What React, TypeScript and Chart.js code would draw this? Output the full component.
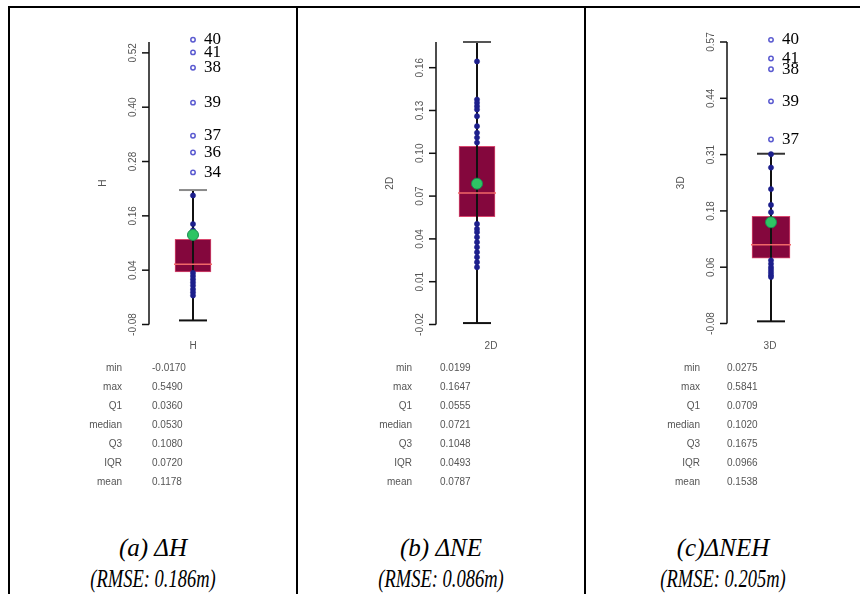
import React, { useEffect, useRef } from 'react';
import { Chart, registerables } from 'chart.js';

Chart.register(...registerables);

// ---------- shared ----------
const statNames = ['min', 'max', 'Q1', 'median', 'Q3', 'IQR', 'mean'];

// ---------- panel (a) ΔH ----------
const hCategory = 'H';
const hStats = [-0.0170, 0.5490, 0.0360, 0.0530, 0.1080, 0.0720, 0.1178];
const hWhiskers = [-0.071, 0.217];
const hPoints = [0.205, 0.142, 0.128, 0.034, 0.027, 0.020, 0.013, 0.006, -0.002, -0.009, -0.016];
const hOutliers = [0.549, 0.521, 0.487, 0.410, 0.337, 0.300, 0.256];
const hOutlierIds = ['40', '41', '38', '39', '37', '36', '34'];
const hTicks = [-0.08, 0.04, 0.16, 0.28, 0.40, 0.52];
const hTickLabels = ['-0.08', '0.04', '0.16', '0.28', '0.40', '0.52'];
const hRange = [-0.08, 0.544];
const hCaption = ['(a) ΔH', '(RMSE: 0.186m)'];

// ---------- panel (b) ΔNE ----------
const neCategory = '2D';
const neStats = [0.0199, 0.1647, 0.0555, 0.0721, 0.1048, 0.0493, 0.0787];
const neWhiskers = [-0.019, 0.178];
const nePoints = [0.1644, 0.1377, 0.1354, 0.133, 0.1307, 0.126, 0.119, 0.1144, 0.111, 0.1075,
  0.0505, 0.047, 0.0447, 0.0412, 0.0377, 0.0342, 0.0307, 0.0272, 0.0237, 0.0202];
const neOutliers: number[] = [];
const neOutlierIds: string[] = [];
const neTicks = [-0.02, 0.01, 0.04, 0.07, 0.10, 0.13, 0.16];
const neTickLabels = ['-0.02', '0.01', '0.04', '0.07', '0.10', '0.13', '0.16'];
const neRange = [-0.02, 0.178];
const neCaption = ['(b) ΔNE', '(RMSE: 0.086m)'];

// ---------- panel (c) ΔNEH ----------
const nehCategory = '3D';
const nehStats = [0.0275, 0.5841, 0.0709, 0.1020, 0.1675, 0.0966, 0.1538];
const nehWhiskers = [-0.075, 0.312];
const nehPoints = [0.311, 0.280, 0.2305, 0.1938, 0.177, 0.066, 0.058, 0.050, 0.044, 0.038, 0.032, 0.0275];
const nehOutliers = [0.575, 0.532, 0.507, 0.433, 0.345];
const nehOutlierIds = ['40', '41', '38', '39', '37'];
const nehTicks = [-0.08, 0.05, 0.18, 0.31, 0.44, 0.57];
const nehTickLabels = ['-0.08', '0.06', '0.18', '0.31', '0.44', '0.57'];
const nehRange = [-0.08, 0.57];
const nehCaption = ['(c)ΔNEH', '(RMSE: 0.205m)'];

type PanelData = {
  category: string;
  stats: number[];
  whiskers: number[];
  points: number[];
  outliers: number[];
  outlierIds: string[];
  ticks: number[];
  tickLabels: string[];
  range: number[];
  caption: string[];
};

type PanelLayout = {
  colLeft: number;
  colWidth: number;
  padLeft: number;
  padRight: number;
  boxWidth: number;
  topCapColor: string;
  catX: number;
  labelRight: number;
  valueLeft: number;
};

const panels: { data: PanelData; layout: PanelLayout }[] = [
  {
    data: { category: hCategory, stats: hStats, whiskers: hWhiskers, points: hPoints, outliers: hOutliers, outlierIds: hOutlierIds, ticks: hTicks, tickLabels: hTickLabels, range: hRange, caption: hCaption },
    layout: { colLeft: 10, colWidth: 286, padLeft: 139, padRight: 59, boxWidth: 36, topCapColor: '#8a8a8a', catX: 193, labelRight: 122, valueLeft: 152 },
  },
  {
    data: { category: neCategory, stats: neStats, whiskers: neWhiskers, points: nePoints, outliers: neOutliers, outlierIds: neOutlierIds, ticks: neTicks, tickLabels: neTickLabels, range: neRange, caption: neCaption },
    layout: { colLeft: 298, colWidth: 286, padLeft: 138, padRight: 66, boxWidth: 36, topCapColor: '#555', catX: 491, labelRight: 412, valueLeft: 440 },
  },
  {
    data: { category: nehCategory, stats: nehStats, whiskers: nehWhiskers, points: nehPoints, outliers: nehOutliers, outlierIds: nehOutlierIds, ticks: nehTicks, tickLabels: nehTickLabels, range: nehRange, caption: nehCaption },
    layout: { colLeft: 586, colWidth: 274, padLeft: 141, padRight: 45, boxWidth: 38, topCapColor: '#333', catX: 770, labelRight: 700, valueLeft: 727 },
  },
];

const CANVAS_H = 345;
const PAD_TOP = 42;
const PAD_BOTTOM = 20;

function makeAxisPlugin(d: PanelData) {
  return {
    id: 'rAxis',
    afterDraw(chart: any) {
      const { ctx, chartArea } = chart;
      const ys = chart.scales.y;
      const ax = chartArea.left;
      ctx.save();
      ctx.strokeStyle = '#111';
      ctx.lineWidth = 1.5;
      ctx.beginPath();
      ctx.moveTo(ax, chartArea.top);
      ctx.lineTo(ax, chartArea.bottom);
      ctx.stroke();
      ctx.font = '10px "Liberation Sans", Arial, sans-serif';
      ctx.fillStyle = '#555';
      d.ticks.forEach((v, i) => {
        const py = ys.getPixelForValue(v);
        ctx.beginPath();
        ctx.moveTo(ax - 7, py);
        ctx.lineTo(ax, py);
        ctx.stroke();
        ctx.save();
        ctx.translate(ax - 16, py);
        ctx.rotate(-Math.PI / 2);
        ctx.textAlign = 'center';
        ctx.textBaseline = 'middle';
        ctx.fillText(d.tickLabels[i], 0, 0);
        ctx.restore();
      });
      // axis title
      ctx.save();
      ctx.translate(ax - 46, (chartArea.top + chartArea.bottom) / 2);
      ctx.rotate(-Math.PI / 2);
      ctx.textAlign = 'center';
      ctx.textBaseline = 'middle';
      ctx.fillText(d.category, 0, 0);
      ctx.restore();
      // outlier ids
      const meta = chart.getDatasetMeta(7);
      ctx.fillStyle = '#000';
      ctx.font = '17px "Liberation Serif", "Times New Roman", serif';
      ctx.textAlign = 'left';
      ctx.textBaseline = 'middle';
      meta.data.forEach((pt: any, i: number) => {
        ctx.fillText(d.outlierIds[i], pt.x + 11, pt.y);
      });
      ctx.restore();
    },
  };
}

function BoxPanel({ data, layout }: { data: PanelData; layout: PanelLayout }) {
  const ref = useRef<HTMLCanvasElement>(null);
  useEffect(() => {
    if (!ref.current) return;
    const c = data.category;
    const [, , q1, med, q3, , mean] = data.stats;
    const pt = (v: number) => ({ x: c, y: v });
    const chart = new Chart(ref.current, {
      type: 'bar',
      data: {
        labels: [c],
        datasets: [
          {
            type: 'bar',
            data: [[q1, q3]],
            backgroundColor: '#84073d',
            borderColor: '#d9476e',
            borderWidth: 1,
            borderSkipped: false,
            barThickness: layout.boxWidth,
            order: 10,
          } as any,
          {
            type: 'line',
            data: data.whiskers.map(pt),
            borderColor: '#111',
            borderWidth: 2,
            pointRadius: 0,
            clip: false,
            order: 9,
          } as any,
          {
            type: 'line',
            data: [pt(data.whiskers[0])],
            showLine: false,
            pointStyle: 'line',
            pointRadius: 14,
            pointBorderColor: '#111',
            pointBorderWidth: 2,
            clip: false,
            order: 8,
          } as any,
          {
            type: 'line',
            data: [pt(data.whiskers[1])],
            showLine: false,
            pointStyle: 'line',
            pointRadius: 14,
            pointBorderColor: layout.topCapColor,
            pointBorderWidth: 2,
            clip: false,
            order: 8,
          } as any,
          {
            type: 'line',
            data: data.points.map(pt),
            showLine: false,
            pointStyle: 'circle',
            pointRadius: 2.6,
            pointBackgroundColor: '#1c1f8c',
            pointBorderColor: '#1c1f8c',
            pointBorderWidth: 0.5,
            clip: false,
            order: 7,
          } as any,
          {
            type: 'line',
            data: [pt(med)],
            showLine: false,
            pointStyle: 'line',
            pointRadius: layout.boxWidth / 2 + 1,
            pointBorderColor: '#f06868',
            pointBorderWidth: 1.5,
            clip: false,
            order: 6,
          } as any,
          {
            type: 'line',
            data: [pt(mean)],
            showLine: false,
            pointStyle: 'circle',
            pointRadius: 5.5,
            pointBackgroundColor: '#2fc464',
            pointBorderColor: '#1d8a52',
            pointBorderWidth: 1,
            clip: false,
            order: 5,
          } as any,
          {
            type: 'line',
            data: data.outliers.map(pt),
            showLine: false,
            pointStyle: 'circle',
            pointRadius: 2.2,
            pointBackgroundColor: 'rgba(255,255,255,0)',
            pointBorderColor: '#5a5ad0',
            pointBorderWidth: 1.5,
            clip: false,
            order: 4,
          } as any,
        ],
      },
      options: {
        animation: false,
        responsive: false,
        maintainAspectRatio: false,
        events: [],
        layout: { padding: { left: layout.padLeft, right: layout.padRight, top: PAD_TOP, bottom: PAD_BOTTOM } },
        scales: {
          x: { display: false, offset: true },
          y: { display: false, min: data.range[0], max: data.range[1] },
        },
        plugins: { legend: { display: false }, tooltip: { enabled: false } },
      },
      plugins: [makeAxisPlugin(data)],
    });
    return () => chart.destroy();
  }, [data, layout]);

  const statFont = '10px "Liberation Sans", Arial, sans-serif';
  const capBase: React.CSSProperties = {
    position: 'absolute', left: layout.colLeft, width: layout.colWidth, textAlign: 'center',
    fontFamily: '"Liberation Serif", "Times New Roman", serif', fontStyle: 'italic', color: '#000', whiteSpace: 'nowrap',
  };
  return (
    <>
      <canvas
        ref={ref}
        width={layout.colWidth}
        height={CANVAS_H}
        style={{ position: 'absolute', left: layout.colLeft, top: 0, width: layout.colWidth, height: CANVAS_H }}
      />
      <div style={{ position: 'absolute', left: layout.catX - 20, width: 40, top: 340, textAlign: 'center', font: statFont, color: '#555', lineHeight: '12px' }}>
        {data.category}
      </div>
      {statNames.map((n, i) => (
        <React.Fragment key={n}>
          <div style={{ position: 'absolute', left: layout.labelRight - 60, width: 60, top: 362 + 19 * i, textAlign: 'right', font: statFont, color: '#555', lineHeight: '12px' }}>{n}</div>
          <div style={{ position: 'absolute', left: layout.valueLeft, top: 362 + 19 * i, font: statFont, color: '#555', lineHeight: '12px' }}>{data.stats[i].toFixed(4)}</div>
        </React.Fragment>
      ))}
      <div style={{ ...capBase, top: 533, fontSize: 25, lineHeight: '30px' }}>{data.caption[0]}</div>
      <div style={{ ...capBase, top: 564, fontSize: 25, lineHeight: '30px', transform: 'scaleX(0.74)' }}>{data.caption[1]}</div>
    </>
  );
}

export default function App() {
  const line = (s: React.CSSProperties) => <div style={{ position: 'absolute', background: '#000', ...s }} />;
  return (
    <div style={{ position: 'absolute', left: 0, top: 0, width: 860, height: 594, background: '#fff', overflow: 'hidden' }}>
      {line({ left: 8, top: 6, width: 852, height: 2 })}
      {line({ left: 8, top: 6, width: 2, height: 588 })}
      {line({ left: 296, top: 6, width: 2, height: 588 })}
      {line({ left: 584, top: 6, width: 2, height: 588 })}
      {panels.map((p) => (
        <BoxPanel key={p.data.category} data={p.data} layout={p.layout} />
      ))}
    </div>
  );
}
